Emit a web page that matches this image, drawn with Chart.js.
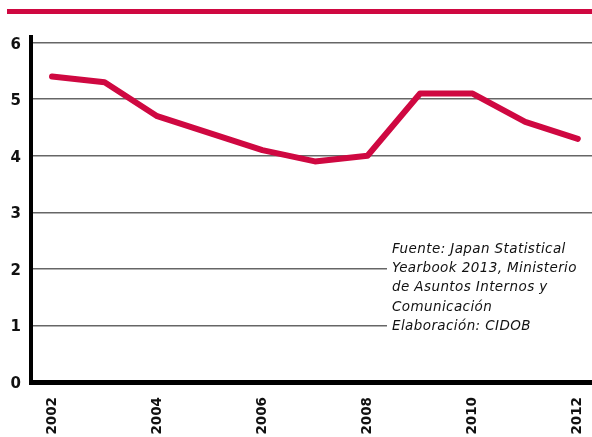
<!DOCTYPE html>
<html>
<head>
<meta charset="utf-8">
<script src="https://cdn.jsdelivr.net/npm/chart.js@4/dist/chart.umd.min.js"></script>
<style>
html, body { margin: 0; padding: 0; background: #fff; }
</style>
</head>
<body>
<canvas id="myChart" width="592" height="437"></canvas>
<script>
// Data
let years = [2002, 2003, 2004, 2005, 2006, 2007, 2008, 2009, 2010, 2011, 2012];
let values = [5.4, 5.3, 4.7, 4.4, 4.1, 3.9, 4.0, 5.1, 5.1, 4.6, 4.3];
let yTicks = [0, 1, 2, 3, 4, 5, 6];
let xTicks = [2002, 2004, 2006, 2008, 2010, 2012];
let noteLines = [
	"Fuente: Japan Statistical",
	"Yearbook 2013, Ministerio",
	"de Asuntos Internos y",
	"Comunicación",
	"Elaboración: CIDOB"
];

const red = '#cf0841';

// Red band at the top and the source note
const extras = {
	id: 'extras',
	beforeDatasetsDraw(chart) {
		let ctx = chart.ctx;
		ctx.save();
		ctx.fillStyle = red;
		ctx.fillRect(7, 9, 585, 5);

		ctx.fillStyle = '#fff';
		ctx.fillRect(387, 238, 205, 96);

		ctx.fillStyle = '#111';
		ctx.font = 'italic 13.5px "DejaVu Sans"';
		ctx.letterSpacing = '0.4px';
		ctx.textBaseline = 'alphabetic';
		noteLines.forEach((t, i) => {
			ctx.fillText(t, 392, 253 + i * 19.2);
		});
		ctx.restore();
	}
};

let points = years.map((y, i) => ({x: y, y: values[i]}));

const config = {
	type: 'line',
	data: {
		datasets: [{
			data: points,
			borderColor: red,
			borderWidth: 6,
			borderCapStyle: 'round',
			borderJoinStyle: 'round',
			pointRadius: 0,
			tension: 0,
			fill: false
		}]
	},
	options: {
		responsive: false,
		animation: false,
		layout: { padding: { top: 37, left: 0, right: 0, bottom: 0 } },
		plugins: {
			legend: { display: false },
			tooltip: { enabled: false }
		},
		scales: {
			x: {
				type: 'linear',
				min: 2001.6,
				max: 2012.27,
				afterBuildTicks: (scale) => { scale.ticks = xTicks.map(v => ({value: v})); },
				afterFit: (scale) => {
					scale.height = 55;
					scale.paddingLeft = 0;
					scale.paddingRight = 0;
				},
				grid: { display: false, drawTicks: false },
				border: { display: true, width: 5, color: '#000' },
				ticks: {
					autoSkip: false,
					minRotation: 90,
					maxRotation: 90,
					padding: 15,
					color: '#111',
					font: { family: 'DejaVu Sans', weight: 'bold', size: 13.5 },
					callback: (v) => String(v)
				}
			},
			y: {
				min: 0,
				max: 6.1,
				afterBuildTicks: (scale) => { scale.ticks = yTicks.map(v => ({value: v})); },
				afterFit: (scale) => {
					scale.width = 31;
					scale.paddingTop = 0;
					scale.paddingBottom = 0;
				},
				grid: { color: '#666', lineWidth: 1.5, drawTicks: false },
				border: { display: true, width: 4, color: '#000' },
				ticks: {
					padding: 10,
					labelOffset: 2,
					color: '#111',
					font: { family: 'DejaVu Sans', weight: 'bold', size: 15 }
				}
			}
		}
	},
	plugins: [extras]
};

let myChart = new Chart(document.getElementById('myChart'), config);
</script>
</body>
</html>
